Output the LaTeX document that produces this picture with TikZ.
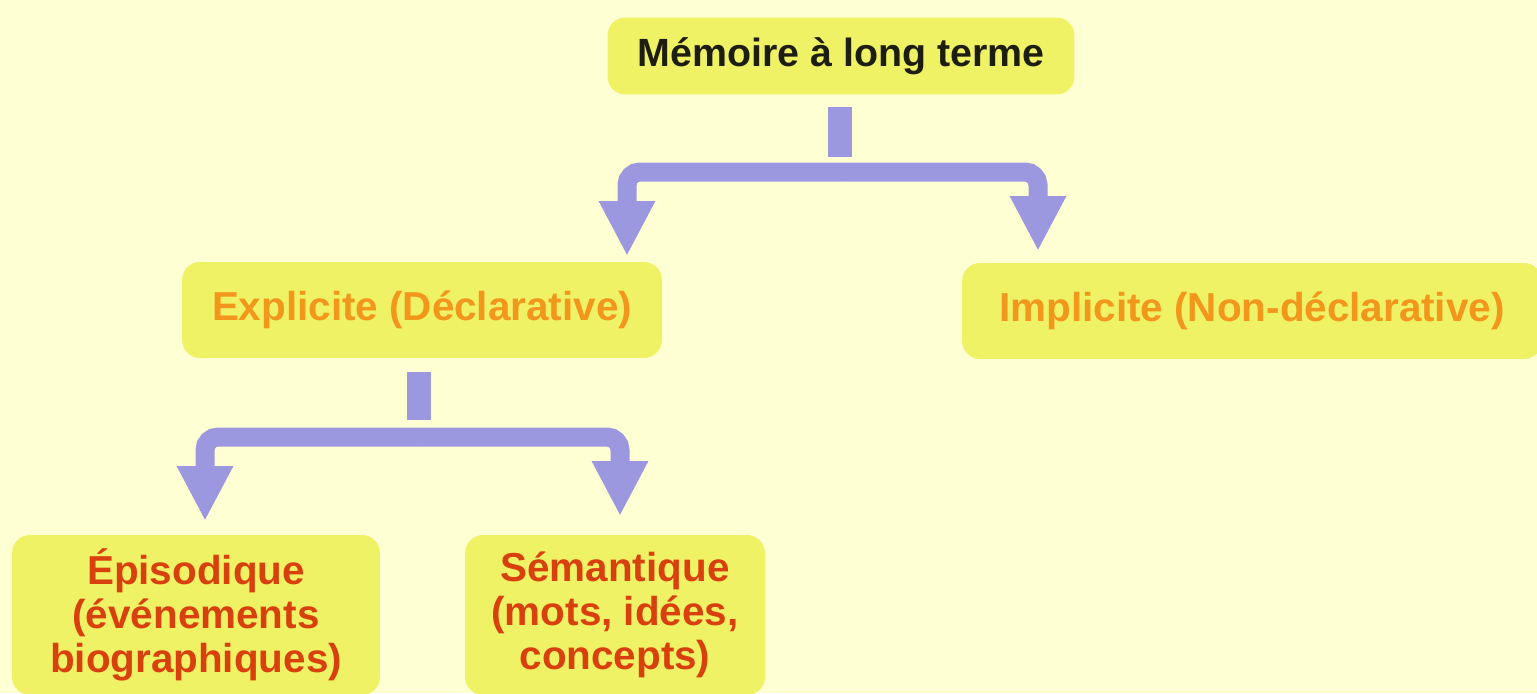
\documentclass[tikz,border=0pt]{standalone}
\usepackage{fontspec}
\setmainfont{Liberation Sans}
\usetikzlibrary{arrows.meta,calc}
\definecolor{mbg}{HTML}{FFFFD4}
\definecolor{mbox}{HTML}{F0F266}
\definecolor{mlav}{HTML}{9C98E0}
\definecolor{mink}{HTML}{1E1E10}
\definecolor{morange}{HTML}{F2961C}
\definecolor{mred}{HTML}{D8400E}
\tikzset{
  card/.style={fill=mbox,rounded corners=0.36cm,align=center,inner sep=0pt,font=\fontsize{23}{25}\selectfont\bfseries},
  topb/.style={card,text=mink,minimum width=9.34cm,minimum height=1.54cm,font=\fontsize{22.4}{25}\selectfont\bfseries},
  midb/.style={card,text=morange,minimum height=1.92cm},
  lowb/.style={card,text=mred,minimum height=3.2cm},
  stub/.style={draw=mlav,line width=0.47cm},
  conn/.style={draw=mlav,line width=0.38cm,rounded corners=0.26cm,-{Triangle[length=1.1cm,width=1.05cm]}},
}
\begin{document}
\begin{tikzpicture}[x=0.02cm,y=-0.02cm]
  \fill[mbg] (0,0) rectangle (1537,693);
  \useasboundingbox (0,0) rectangle (1537,693);
  % boxes
  \node[topb] (mlt) at (841,56) {Mémoire à long terme};
  \node[midb,minimum width=9.6cm] (expl) at (422,310) {Explicite (Déclarative)};
  \node[midb,minimum width=11.6cm] (impl) at (1252,311) {Implicite (Non-déclarative)};
  \node[lowb,minimum width=7.36cm] (epis) at (196,615) {Épisodique\\(événements\\biographiques)};
  \node[lowb,minimum width=6cm] (sema) at (615,615) {Sémantique\\(mots, idées,\\concepts)};
  % first split
  \coordinate (s1) at (840,172);
  \coordinate (t1a) at (627,256);
  \coordinate (t1b) at (1038,251);
  \draw[stub] ($(mlt.south -| s1)+(0,12)$) -- ($(s1)+(0,-15)$);
  \draw[conn] (s1) -| (t1a);
  \draw[conn] (s1) -| (t1b);
  % second split
  \coordinate (s2) at (419,437);
  \coordinate (t2a) at (205,521);
  \coordinate (t2b) at (620,516);
  \draw[stub] ($(expl.south -| s2)+(0,14)$) -- ($(s2)+(0,-17)$);
  \draw[conn] (s2) -| (t2a);
  \draw[conn] (s2) -| (t2b);
\end{tikzpicture}
\end{document}
